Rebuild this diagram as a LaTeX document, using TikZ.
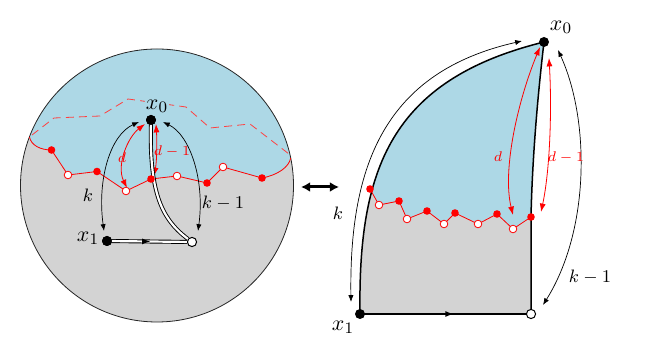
\documentclass[tikz,border=0pt]{standalone}
\usetikzlibrary{arrows.meta,decorations.markings}
\definecolor{skyfill}{RGB}{173,216,230}
\definecolor{greyfill}{RGB}{211,211,211}
\tikzset{
  blackdot/.style={circle,fill=black,inner sep=0pt,minimum size=5pt},
  reddot/.style={circle,fill=red,inner sep=0pt,minimum size=3.8pt},
  opendot/.style={circle,draw=red,fill=white,line width=0.4pt,inner sep=0pt,minimum size=3.8pt},
  whitedot/.style={circle,draw=black,fill=white,line width=0.5pt,inner sep=0pt,minimum size=4.6pt},
  arr/.style={{Latex[length=3.4pt,width=2.6pt]}-{Latex[length=3.4pt,width=2.6pt]},line width=0.35pt},
  redarr/.style={red,{Latex[length=4.2pt,width=3pt]}-{Latex[length=4.2pt,width=3pt]},line width=0.4pt},
  dline/.style={double,double distance=1.1pt,line width=0.45pt},
  midarrow/.style={postaction={decorate},decoration={markings,
    mark=at position 0.55 with {\arrow{Latex[length=4.4pt,width=3pt]}}}},
  redlabel/.style={red,font=\scriptsize,inner sep=1pt},
  xlabel/.style={font=\fontsize{11}{13}\selectfont},
}

\begin{document}
\begin{tikzpicture}[x=0.5pt,y=-0.5pt]
\useasboundingbox (0,0) rectangle (653,351);

% left disc
\foreach \n/\x/\y in {1/51.5/150,2/68/175,3/97/171.5,4/126/191,5/151/179,
                      6/177/176,7/207/183,8/223/167,9/262/178}
  \coordinate (l\n) at (\x,\y);
\coordinate (la) at (29.5,137);
\coordinate (lb) at (290.7,158);
\fill[greyfill] (157,185.5) circle (136.5);
\begin{scope}
\clip (157,185.5) circle (136.5);
\fill[skyfill] (0,137) -- (la) .. controls (31,145) and (40,150) .. (l1) -- (l2) -- (l3)
  -- (l4) -- (l5) -- (l6) -- (l7) -- (l8) -- (l9) .. controls (278,175) and (289,167) .. (lb)
  -- (310,158) -- (310,40) -- (0,40) -- cycle;
\end{scope}
\draw[red!75,dashed,dash pattern=on 4pt off 2.6pt,line width=0.4pt] (32,135) -- (54,118)
  -- (100,116) -- (128,99) -- (186,107) -- (210,128) -- (250,124) -- (289,154);
\draw[black!85,line width=0.4pt] (157,185.5) circle (136.5);
\draw[red,line width=0.4pt] (la) .. controls (31,145) and (40,150) .. (l1) -- (l2) -- (l3)
  -- (l4) -- (l5) -- (l6) -- (l7) -- (l8) -- (l9) .. controls (278,175) and (289,167) .. (lb);

% left arrows
\coordinate (lkb) at (104,231);
\coordinate (lkt) at (139,122);
\coordinate (lmb) at (198,231);
\coordinate (lmt) at (163,122);
\coordinate (ldb) at (127,188);
\coordinate (ldt) at (145,124);
\coordinate (lnb) at (154,176);
\coordinate (lnt) at (156,124);
\draw[arr] (lkb) .. controls (97,180) and (110,135) .. (lkt);
\draw[arr] (lmb) .. controls (205,180) and (190,135) .. (lmt);
\draw[redarr] (ldb) .. controls (116,165) and (128,137) .. (ldt);
\draw[redarr] (lnb) .. controls (157,160) and (157,140) .. (lnt);

\node[blackdot] (lx0) at (151,120) {};
\node[blackdot] (lx1) at (107,241) {};
\node[whitedot] (lw) at (192,242) {};
\draw[dline] (lx0.center) .. controls (149,190) and (160,218) .. (lw);
\draw[dline,midarrow] (lx1.center) -- (lw);
\node[blackdot] at (lx0) {};
\node[blackdot] at (lx1) {};
\foreach \n in {1,3,5,7,9}
  \node[reddot] (ld\n) at (l\n) {};
\foreach \n in {2,4,6,8}
  \node[opendot] (ld\n) at (l\n) {};

\node[xlabel,fill=skyfill,inner sep=0.5pt] (lx0lab) at (157,106) {$x_0$};
\node[xlabel] (lx1lab) at (88,238) {$x_1$};
\node[font=\small] (lklab) at (88,195) {$k$};
\node[font=\small] (lmlab) at (223,203) {$k-1$};
\node[redlabel] (ldlab) at (122,158) {$d$};
\node[redlabel] (lnlab) at (172,151) {$d-1$};

% swap arrow
\coordinate (swl) at (301,187);
\coordinate (swr) at (339,187);
\draw[line width=1.5pt,{Latex[length=4.6pt,width=5pt]}-{Latex[length=4.6pt,width=5pt]}] (swl) -- (swr);

% right shape
\foreach \n/\x/\y in {1/370/189,2/379/205,3/399/201,4/407/219,5/427/211,6/444/224,
                      7/455/213,8/478/224,9/497/214,10/513/229,11/531/217}
  \coordinate (r\n) at (\x,\y);
\coordinate (q0) at (544,42);
\coordinate (q1) at (360,314);
\coordinate (qw) at (531,314);
\fill[greyfill] (q1) .. controls (358,170) and (390,80) .. (q0)
  .. controls (536,110) and (532,170) .. (r11) -- (qw) -- cycle;
\begin{scope}
\clip (q1) .. controls (358,170) and (390,80) .. (q0)
  .. controls (536,110) and (532,170) .. (r11) -- (qw) -- cycle;
\fill[skyfill] (320,189) -- (r1) -- (r2) -- (r3) -- (r4) -- (r5) -- (r6) -- (r7) -- (r8)
  -- (r9) -- (r10) -- (r11) -- (620,217) -- (620,0) -- (320,0) -- cycle;
\end{scope}
\draw[line width=0.75pt] (q1) .. controls (358,170) and (390,80) .. (q0)
  .. controls (536,110) and (532,170) .. (r11) -- (qw);
\draw[line width=0.75pt,midarrow] (q1) -- (qw);
\draw[red,line width=0.4pt] (r1) -- (r2) -- (r3) -- (r4) -- (r5) -- (r6) -- (r7) -- (r8)
  -- (r9) -- (r10) -- (r11);

% right arrows
\coordinate (rkb) at (351,302);
\coordinate (rkt) at (522,41);
\coordinate (rmb) at (543,305);
\coordinate (rmt) at (558,50);
\coordinate (rdb) at (513,215);
\coordinate (rdt) at (540,47);
\coordinate (rnb) at (541,212);
\coordinate (rnt) at (549,58);
\draw[arr] (rkb) .. controls (349,165) and (385,72) .. (rkt);
\draw[arr] (rmb) .. controls (590,230) and (590,120) .. (rmt);
\draw[redarr] (rdb) .. controls (502,170) and (518,100) .. (rdt);
\draw[redarr] (rnb) .. controls (550,170) and (552,110) .. (rnt);

\node[blackdot] (rx0) at (q0) {};
\node[blackdot] (rx1) at (q1) {};
\node[whitedot] (rw) at (qw) {};
\foreach \n in {1,3,5,7,9,11}
  \node[reddot] (rd\n) at (r\n) {};
\foreach \n in {2,4,6,8,10}
  \node[opendot] (rd\n) at (r\n) {};

\node[xlabel] (rx0lab) at (561,27) {$x_0$};
\node[xlabel] (rx1lab) at (343,327) {$x_1$};
\node[font=\small] (rklab) at (338,213) {$k$};
\node[font=\small] (rmlab) at (590,277) {$k-1$};
\node[redlabel] (rdlab) at (498,157) {$d$};
\node[redlabel] (rnlab) at (566,157) {$d-1$};
\end{tikzpicture}
\end{document}
